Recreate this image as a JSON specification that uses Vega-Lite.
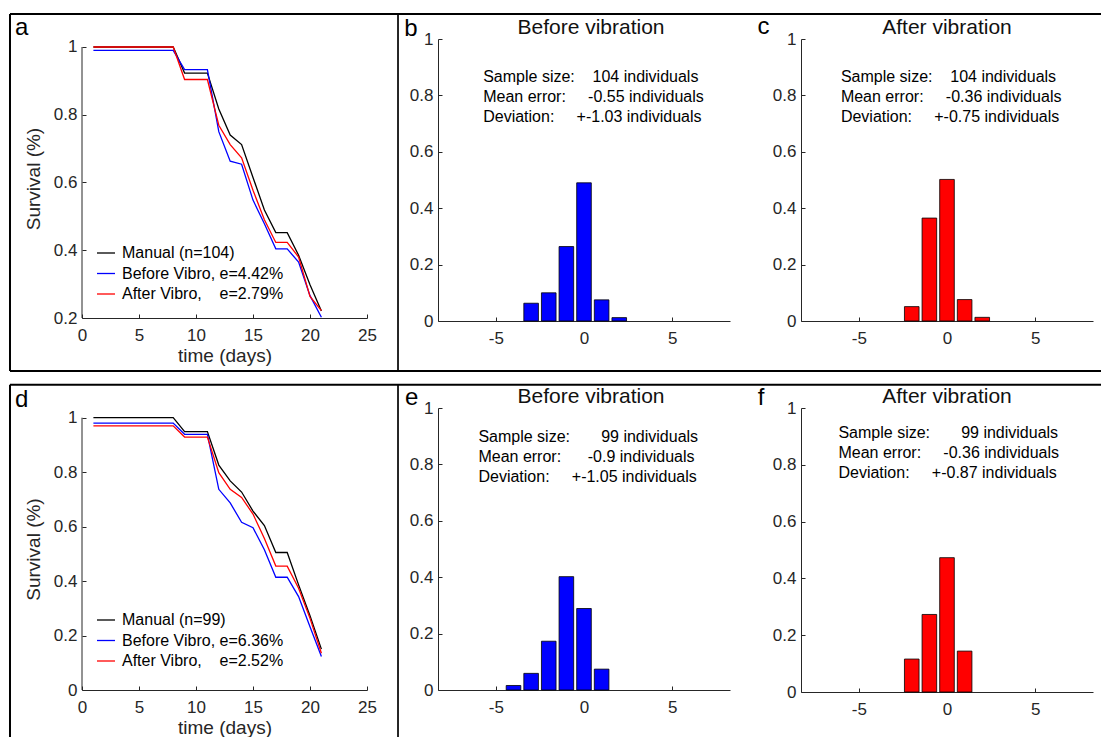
{
  "$schema": "https://vega.github.io/schema/vega-lite/v6.json",
  "padding": {"left": 8, "top": 12, "right": 0, "bottom": 0},
  "bounds": "flush",
  "columns": 3,
  "spacing": {"row": 87, "column": 71},
  "resolve": {"scale": {"color": "independent"}, "legend": {"color": "independent"}},
  "config": {
    "font": "Liberation Sans",
    "view": {"stroke": null},
    "axis": {"grid": false, "domainColor": "#262626", "domainWidth": 1, "tickColor": "#262626", "tickWidth": 1, "tickSize": -4, "labelFontSize": 17, "labelColor": "#262626", "labelFont": "Liberation Sans", "labelFlush": false, "labelOverlap": false, "titleFont": "Liberation Sans", "titleFontSize": 19, "titleFontWeight": "normal", "titleColor": "#262626"},
    "axisX": {"labelPadding": 13, "titlePadding": 3},
    "axisY": {"labelPadding": 9, "titlePadding": 9.5},
    "title": {"font": "Liberation Sans", "fontSize": 21, "fontWeight": "normal", "color": "#111111", "baseline": "alphabetic", "offset": 4},
    "legend": {"labelFont": "Liberation Sans", "labelFontSize": 16, "labelColor": "#000000", "labelLimit": 400, "symbolType": "stroke", "symbolSize": 324, "symbolStrokeWidth": 1.3, "labelOffset": 6, "rowPadding": 2.5, "padding": 0},
    "text": {"font": "Liberation Sans", "fontSize": 16, "color": "#000000"}
  },
  "datasets": {
    "surv_a": [
      {"day":1,"series":"Manual (n=104)","survival":1},{"day":2,"series":"Manual (n=104)","survival":1},{"day":3,"series":"Manual (n=104)","survival":1},{"day":4,"series":"Manual (n=104)","survival":1},{"day":5,"series":"Manual (n=104)","survival":1},{"day":6,"series":"Manual (n=104)","survival":1},{"day":7,"series":"Manual (n=104)","survival":1},{"day":8,"series":"Manual (n=104)","survival":1},{"day":9,"series":"Manual (n=104)","survival":0.923},{"day":10,"series":"Manual (n=104)","survival":0.923},{"day":11,"series":"Manual (n=104)","survival":0.923},{"day":12,"series":"Manual (n=104)","survival":0.817},{"day":13,"series":"Manual (n=104)","survival":0.74},{"day":14,"series":"Manual (n=104)","survival":0.712},{"day":15,"series":"Manual (n=104)","survival":0.615},{"day":16,"series":"Manual (n=104)","survival":0.519},{"day":17,"series":"Manual (n=104)","survival":0.452},{"day":18,"series":"Manual (n=104)","survival":0.452},{"day":19,"series":"Manual (n=104)","survival":0.385},{"day":20,"series":"Manual (n=104)","survival":0.298},{"day":21,"series":"Manual (n=104)","survival":0.221},
      {"day":1,"series":"Before Vibro, e=4.42%","survival":0.99},{"day":2,"series":"Before Vibro, e=4.42%","survival":0.99},{"day":3,"series":"Before Vibro, e=4.42%","survival":0.99},{"day":4,"series":"Before Vibro, e=4.42%","survival":0.99},{"day":5,"series":"Before Vibro, e=4.42%","survival":0.99},{"day":6,"series":"Before Vibro, e=4.42%","survival":0.99},{"day":7,"series":"Before Vibro, e=4.42%","survival":0.99},{"day":8,"series":"Before Vibro, e=4.42%","survival":0.99},{"day":9,"series":"Before Vibro, e=4.42%","survival":0.933},{"day":10,"series":"Before Vibro, e=4.42%","survival":0.933},{"day":11,"series":"Before Vibro, e=4.42%","survival":0.933},{"day":12,"series":"Before Vibro, e=4.42%","survival":0.75},{"day":13,"series":"Before Vibro, e=4.42%","survival":0.663},{"day":14,"series":"Before Vibro, e=4.42%","survival":0.654},{"day":15,"series":"Before Vibro, e=4.42%","survival":0.548},{"day":16,"series":"Before Vibro, e=4.42%","survival":0.478},{"day":17,"series":"Before Vibro, e=4.42%","survival":0.404},{"day":18,"series":"Before Vibro, e=4.42%","survival":0.404},{"day":19,"series":"Before Vibro, e=4.42%","survival":0.365},{"day":20,"series":"Before Vibro, e=4.42%","survival":0.266},{"day":21,"series":"Before Vibro, e=4.42%","survival":0.202},
      {"day":1,"series":"After Vibro, e=2.79%","survival":1},{"day":2,"series":"After Vibro, e=2.79%","survival":1},{"day":3,"series":"After Vibro, e=2.79%","survival":1},{"day":4,"series":"After Vibro, e=2.79%","survival":1},{"day":5,"series":"After Vibro, e=2.79%","survival":1},{"day":6,"series":"After Vibro, e=2.79%","survival":1},{"day":7,"series":"After Vibro, e=2.79%","survival":1},{"day":8,"series":"After Vibro, e=2.79%","survival":1},{"day":9,"series":"After Vibro, e=2.79%","survival":0.904},{"day":10,"series":"After Vibro, e=2.79%","survival":0.904},{"day":11,"series":"After Vibro, e=2.79%","survival":0.904},{"day":12,"series":"After Vibro, e=2.79%","survival":0.769},{"day":13,"series":"After Vibro, e=2.79%","survival":0.712},{"day":14,"series":"After Vibro, e=2.79%","survival":0.673},{"day":15,"series":"After Vibro, e=2.79%","survival":0.577},{"day":16,"series":"After Vibro, e=2.79%","survival":0.49},{"day":17,"series":"After Vibro, e=2.79%","survival":0.423},{"day":18,"series":"After Vibro, e=2.79%","survival":0.423},{"day":19,"series":"After Vibro, e=2.79%","survival":0.38},{"day":20,"series":"After Vibro, e=2.79%","survival":0.264},{"day":21,"series":"After Vibro, e=2.79%","survival":0.222}
    ],
    "surv_d": [
      {"day":1,"series":"Manual (n=99)","survival":1},{"day":2,"series":"Manual (n=99)","survival":1},{"day":3,"series":"Manual (n=99)","survival":1},{"day":4,"series":"Manual (n=99)","survival":1},{"day":5,"series":"Manual (n=99)","survival":1},{"day":6,"series":"Manual (n=99)","survival":1},{"day":7,"series":"Manual (n=99)","survival":1},{"day":8,"series":"Manual (n=99)","survival":1},{"day":9,"series":"Manual (n=99)","survival":0.949},{"day":10,"series":"Manual (n=99)","survival":0.949},{"day":11,"series":"Manual (n=99)","survival":0.949},{"day":12,"series":"Manual (n=99)","survival":0.826},{"day":13,"series":"Manual (n=99)","survival":0.768},{"day":14,"series":"Manual (n=99)","survival":0.727},{"day":15,"series":"Manual (n=99)","survival":0.657},{"day":16,"series":"Manual (n=99)","survival":0.604},{"day":17,"series":"Manual (n=99)","survival":0.505},{"day":18,"series":"Manual (n=99)","survival":0.505},{"day":19,"series":"Manual (n=99)","survival":0.386},{"day":20,"series":"Manual (n=99)","survival":0.273},{"day":21,"series":"Manual (n=99)","survival":0.15},
      {"day":1,"series":"Before Vibro, e=6.36%","survival":0.98},{"day":2,"series":"Before Vibro, e=6.36%","survival":0.98},{"day":3,"series":"Before Vibro, e=6.36%","survival":0.98},{"day":4,"series":"Before Vibro, e=6.36%","survival":0.98},{"day":5,"series":"Before Vibro, e=6.36%","survival":0.98},{"day":6,"series":"Before Vibro, e=6.36%","survival":0.98},{"day":7,"series":"Before Vibro, e=6.36%","survival":0.98},{"day":8,"series":"Before Vibro, e=6.36%","survival":0.98},{"day":9,"series":"Before Vibro, e=6.36%","survival":0.939},{"day":10,"series":"Before Vibro, e=6.36%","survival":0.939},{"day":11,"series":"Before Vibro, e=6.36%","survival":0.939},{"day":12,"series":"Before Vibro, e=6.36%","survival":0.737},{"day":13,"series":"Before Vibro, e=6.36%","survival":0.687},{"day":14,"series":"Before Vibro, e=6.36%","survival":0.616},{"day":15,"series":"Before Vibro, e=6.36%","survival":0.596},{"day":16,"series":"Before Vibro, e=6.36%","survival":0.515},{"day":17,"series":"Before Vibro, e=6.36%","survival":0.414},{"day":18,"series":"Before Vibro, e=6.36%","survival":0.414},{"day":19,"series":"Before Vibro, e=6.36%","survival":0.343},{"day":20,"series":"Before Vibro, e=6.36%","survival":0.232},{"day":21,"series":"Before Vibro, e=6.36%","survival":0.123},
      {"day":1,"series":"After Vibro, e=2.52%","survival":0.97},{"day":2,"series":"After Vibro, e=2.52%","survival":0.97},{"day":3,"series":"After Vibro, e=2.52%","survival":0.97},{"day":4,"series":"After Vibro, e=2.52%","survival":0.97},{"day":5,"series":"After Vibro, e=2.52%","survival":0.97},{"day":6,"series":"After Vibro, e=2.52%","survival":0.97},{"day":7,"series":"After Vibro, e=2.52%","survival":0.97},{"day":8,"series":"After Vibro, e=2.52%","survival":0.97},{"day":9,"series":"After Vibro, e=2.52%","survival":0.929},{"day":10,"series":"After Vibro, e=2.52%","survival":0.929},{"day":11,"series":"After Vibro, e=2.52%","survival":0.929},{"day":12,"series":"After Vibro, e=2.52%","survival":0.798},{"day":13,"series":"After Vibro, e=2.52%","survival":0.737},{"day":14,"series":"After Vibro, e=2.52%","survival":0.707},{"day":15,"series":"After Vibro, e=2.52%","survival":0.646},{"day":16,"series":"After Vibro, e=2.52%","survival":0.556},{"day":17,"series":"After Vibro, e=2.52%","survival":0.455},{"day":18,"series":"After Vibro, e=2.52%","survival":0.455},{"day":19,"series":"After Vibro, e=2.52%","survival":0.374},{"day":20,"series":"After Vibro, e=2.52%","survival":0.263},{"day":21,"series":"After Vibro, e=2.52%","survival":0.135}
    ],
    "hist_b": [{"err":-3,"frac":0.063},{"err":-2,"frac":0.1},{"err":-1,"frac":0.264},{"err":0,"frac":0.49},{"err":1,"frac":0.075},{"err":2,"frac":0.012}],
    "hist_c": [{"err":-2,"frac":0.051},{"err":-1,"frac":0.365},{"err":0,"frac":0.502},{"err":1,"frac":0.076},{"err":2,"frac":0.013}],
    "hist_e": [{"err":-4,"frac":0.016},{"err":-3,"frac":0.059},{"err":-2,"frac":0.173},{"err":-1,"frac":0.402},{"err":0,"frac":0.289},{"err":1,"frac":0.074}],
    "hist_f": [{"err":-2,"frac":0.116},{"err":-1,"frac":0.273},{"err":0,"frac":0.473},{"err":1,"frac":0.144}]
  },
  "concat": [
    {
      "width": 285, "height": 279,
      "layer": [
        {"data": {"values": [{}]}, "mark": {"type": "rule", "color": "#000000", "strokeWidth": 2}, "encoding": {"x": {"datum": -6.316, "type": "quantitative"}, "x2": {"datum": 90}, "y": {"datum": 1.0974, "type": "quantitative"}}},
        {"data": {"values": [{}]}, "mark": {"type": "rule", "color": "#000000", "strokeWidth": 2}, "encoding": {"x": {"datum": -6.316, "type": "quantitative"}, "x2": {"datum": 90}, "y": {"datum": 0.0435, "type": "quantitative"}}},
        {"data": {"values": [{}]}, "mark": {"type": "rule", "color": "#000000", "strokeWidth": 2}, "encoding": {"x": {"datum": -6.316, "type": "quantitative"}, "y": {"datum": 1.0974, "type": "quantitative"}, "y2": {"datum": 0.0435}}},
        {"data": {"values": [{}]}, "mark": {"type": "rule", "color": "#000000", "strokeWidth": 1.7}, "encoding": {"x": {"datum": 27.72, "type": "quantitative"}, "y": {"datum": 1.0974, "type": "quantitative"}, "y2": {"datum": 0.0435}}},
        {"data": {"values": [{}]}, "mark": {"type": "rule", "color": "#262626", "strokeWidth": 1}, "encoding": {"x": {"datum": 0, "type": "quantitative"}, "y": {"datum": 0.2, "type": "quantitative"}, "y2": {"datum": 1}}},
        {"data": {"name": "surv_a"}, "mark": {"type": "line", "strokeWidth": 1.3},
          "encoding": {
            "x": {"field": "day", "type": "quantitative", "scale": {"domain": [0, 25], "nice": false, "zero": false}, "axis": {"title": "time (days)", "values": [0, 5, 10, 15, 20, 25], "labelExpr": "'' + datum.value"}},
            "y": {"field": "survival", "type": "quantitative", "scale": {"domain": [0.2, 1.0236], "nice": false, "zero": false}, "axis": {"title": "Survival (%)", "domain": false, "values": [0.2, 0.4, 0.6, 0.8, 1], "labelExpr": "'' + datum.value"}},
            "color": {"field": "series", "type": "nominal", "sort": null, "scale": {"domain": ["Manual (n=104)", "Before Vibro, e=4.42%", "After Vibro, e=2.79%"], "range": ["#000000", "#0000ff", "#ff0000"]}, "legend": {"title": null, "orient": "none", "legendX": 14, "legendY": 204, "labelExpr": "replace(datum.label, 'After Vibro, ', 'After Vibro,\u00a0\u00a0\u00a0\u00a0')"}}
          }},
        {"data": {"values": [{}]}, "mark": {"type": "text", "align": "left", "baseline": "alphabetic", "fontSize": 24}, "encoding": {"x": {"datum": -5.88, "type": "quantitative"}, "y": {"datum": 1.0354, "type": "quantitative"}, "text": {"value": "a"}}}
      ]
    },
    {
      "width": 292, "height": 282,
      "title": {"text": "Before vibration", "dx": 7, "dy": 25},
      "layer": [
        {"data": {"name": "hist_b"}, "mark": {"type": "bar", "color": "#0000ff", "stroke": "#000000", "strokeWidth": 0.8, "width": 14.6},
          "encoding": {
            "x": {"field": "err", "type": "quantitative", "scale": {"domain": [-8, 8], "nice": false, "zero": false}, "axis": {"title": null, "values": [-5, 0, 5], "labelExpr": "'' + datum.value"}},
            "y": {"field": "frac", "type": "quantitative", "scale": {"domain": [0, 1], "nice": false}, "axis": {"title": null, "values": [0, 0.2, 0.4, 0.6, 0.8, 1], "labelExpr": "'' + datum.value"}}
          }},
        {"data": {"values": [{}]}, "mark": {"type": "text", "align": "left", "baseline": "alphabetic", "lineHeight": 20}, "encoding": {"x": {"datum": -5.72, "type": "quantitative"}, "y": {"datum": 0.8475, "type": "quantitative"}, "text": {"value": ["Sample size:\u00a0\u00a0\u00a0\u00a0104 individuals", "Mean error:\u00a0\u00a0\u00a0\u00a0\u00a0-0.55 individuals", "Deviation:\u00a0\u00a0\u00a0\u00a0\u00a0+-1.03 individuals"]}}},
        {"data": {"values": [{}]}, "mark": {"type": "text", "align": "left", "baseline": "alphabetic", "fontSize": 24}, "encoding": {"x": {"datum": -10.2, "type": "quantitative"}, "y": {"datum": 1.0106, "type": "quantitative"}, "text": {"value": "b"}}}
      ]
    },
    {
      "width": 292, "height": 282,
      "title": {"text": "After vibration", "dy": 27},
      "layer": [
        {"data": {"name": "hist_c"}, "mark": {"type": "bar", "color": "#ff0000", "stroke": "#000000", "strokeWidth": 0.8, "width": 14.6},
          "encoding": {
            "x": {"field": "err", "type": "quantitative", "scale": {"domain": [-8, 8], "nice": false, "zero": false}, "axis": {"title": null, "values": [-5, 0, 5], "labelExpr": "'' + datum.value"}},
            "y": {"field": "frac", "type": "quantitative", "scale": {"domain": [0, 1], "nice": false}, "axis": {"title": null, "values": [0, 0.2, 0.4, 0.6, 0.8, 1], "labelExpr": "'' + datum.value"}}
          }},
        {"data": {"values": [{}]}, "mark": {"type": "text", "align": "left", "baseline": "alphabetic", "lineHeight": 20}, "encoding": {"x": {"datum": -6.02, "type": "quantitative"}, "y": {"datum": 0.8475, "type": "quantitative"}, "text": {"value": ["Sample size:\u00a0\u00a0\u00a0\u00a0104 individuals", "Mean error:\u00a0\u00a0\u00a0\u00a0\u00a0-0.36 individuals", "Deviation:\u00a0\u00a0\u00a0\u00a0\u00a0+-0.75 individuals"]}}},
        {"data": {"values": [{}]}, "mark": {"type": "text", "align": "left", "baseline": "alphabetic", "fontSize": 24}, "encoding": {"x": {"datum": -10.75, "type": "quantitative"}, "y": {"datum": 1.016, "type": "quantitative"}, "text": {"value": "c"}}}
      ]
    },
    {
      "width": 285, "height": 282,
      "layer": [
        {"data": {"values": [{}]}, "mark": {"type": "rule", "color": "#000000", "strokeWidth": 2}, "encoding": {"x": {"datum": -6.316, "type": "quantitative"}, "x2": {"datum": 90}, "y": {"datum": 1.1212, "type": "quantitative"}}},
        {"data": {"values": [{}]}, "mark": {"type": "rule", "color": "#000000", "strokeWidth": 2}, "encoding": {"x": {"datum": -6.316, "type": "quantitative"}, "y": {"datum": 1.1212, "type": "quantitative"}, "y2": {"datum": -0.25}}},
        {"data": {"values": [{}]}, "mark": {"type": "rule", "color": "#000000", "strokeWidth": 1.7}, "encoding": {"x": {"datum": 27.72, "type": "quantitative"}, "y": {"datum": 1.1212, "type": "quantitative"}, "y2": {"datum": -0.25}}},
        {"data": {"values": [{}]}, "mark": {"type": "rule", "color": "#262626", "strokeWidth": 1}, "encoding": {"x": {"datum": 0, "type": "quantitative"}, "y": {"datum": 0, "type": "quantitative"}, "y2": {"datum": 1}}},
        {"data": {"name": "surv_d"}, "mark": {"type": "line", "strokeWidth": 1.3},
          "encoding": {
            "x": {"field": "day", "type": "quantitative", "scale": {"domain": [0, 25], "nice": false, "zero": false}, "axis": {"title": "time (days)", "values": [0, 5, 10, 15, 20, 25], "labelExpr": "'' + datum.value"}},
            "y": {"field": "survival", "type": "quantitative", "scale": {"domain": [0, 1.0356], "nice": false, "zero": false}, "axis": {"title": "Survival (%)", "domain": false, "values": [0, 0.2, 0.4, 0.6, 0.8, 1], "labelExpr": "'' + datum.value"}},
            "color": {"field": "series", "type": "nominal", "sort": null, "scale": {"domain": ["Manual (n=99)", "Before Vibro, e=6.36%", "After Vibro, e=2.52%"], "range": ["#000000", "#0000ff", "#ff0000"]}, "legend": {"title": null, "orient": "none", "legendX": 14, "legendY": 202, "labelExpr": "replace(datum.label, 'After Vibro, ', 'After Vibro,\u00a0\u00a0\u00a0\u00a0')"}}
          }},
        {"data": {"values": [{}]}, "mark": {"type": "text", "align": "left", "baseline": "alphabetic", "fontSize": 24}, "encoding": {"x": {"datum": -5.88, "type": "quantitative"}, "y": {"datum": 1.0393, "type": "quantitative"}, "text": {"value": "d"}}}
      ]
    },
    {
      "width": 292, "height": 282,
      "title": {"text": "Before vibration", "dx": 7, "dy": 25},
      "layer": [
        {"data": {"name": "hist_e"}, "mark": {"type": "bar", "color": "#0000ff", "stroke": "#000000", "strokeWidth": 0.8, "width": 14.6},
          "encoding": {
            "x": {"field": "err", "type": "quantitative", "scale": {"domain": [-8, 8], "nice": false, "zero": false}, "axis": {"title": null, "values": [-5, 0, 5], "labelExpr": "'' + datum.value"}},
            "y": {"field": "frac", "type": "quantitative", "scale": {"domain": [0, 1], "nice": false}, "axis": {"title": null, "values": [0, 0.2, 0.4, 0.6, 0.8, 1], "labelExpr": "'' + datum.value"}}
          }},
        {"data": {"values": [{}]}, "mark": {"type": "text", "align": "left", "baseline": "alphabetic", "lineHeight": 20}, "encoding": {"x": {"datum": -5.99, "type": "quantitative"}, "y": {"datum": 0.878, "type": "quantitative"}, "text": {"value": ["Sample size:\u00a0\u00a0\u00a0\u00a0\u00a0\u00a0\u00a099 individuals", "Mean error:\u00a0\u00a0\u00a0\u00a0\u00a0\u00a0-0.9 individuals", "Deviation:\u00a0\u00a0\u00a0\u00a0\u00a0+-1.05 individuals"]}}},
        {"data": {"values": [{}]}, "mark": {"type": "text", "align": "left", "baseline": "alphabetic", "fontSize": 24}, "encoding": {"x": {"datum": -10.15, "type": "quantitative"}, "y": {"datum": 1.0106, "type": "quantitative"}, "text": {"value": "e"}}}
      ]
    },
    {
      "width": 292, "height": 284,
      "title": {"text": "After vibration", "dy": 25},
      "layer": [
        {"data": {"name": "hist_f"}, "mark": {"type": "bar", "color": "#ff0000", "stroke": "#000000", "strokeWidth": 0.8, "width": 14.6},
          "encoding": {
            "x": {"field": "err", "type": "quantitative", "scale": {"domain": [-8, 8], "nice": false, "zero": false}, "axis": {"title": null, "values": [-5, 0, 5], "labelExpr": "'' + datum.value"}},
            "y": {"field": "frac", "type": "quantitative", "scale": {"domain": [0, 1], "nice": false}, "axis": {"title": null, "values": [0, 0.2, 0.4, 0.6, 0.8, 1], "labelExpr": "'' + datum.value"}}
          }},
        {"data": {"values": [{}]}, "mark": {"type": "text", "align": "left", "baseline": "alphabetic", "lineHeight": 20}, "encoding": {"x": {"datum": -6.16, "type": "quantitative"}, "y": {"datum": 0.8954, "type": "quantitative"}, "text": {"value": ["Sample size:\u00a0\u00a0\u00a0\u00a0\u00a0\u00a0\u00a099 individuals", "Mean error:\u00a0\u00a0\u00a0\u00a0\u00a0-0.36 individuals", "Deviation:\u00a0\u00a0\u00a0\u00a0\u00a0+-0.87 individuals"]}}},
        {"data": {"values": [{}]}, "mark": {"type": "text", "align": "left", "baseline": "alphabetic", "fontSize": 24}, "encoding": {"x": {"datum": -10.74, "type": "quantitative"}, "y": {"datum": 1.0106, "type": "quantitative"}, "text": {"value": "f"}}}
      ]
    }
  ]
}
